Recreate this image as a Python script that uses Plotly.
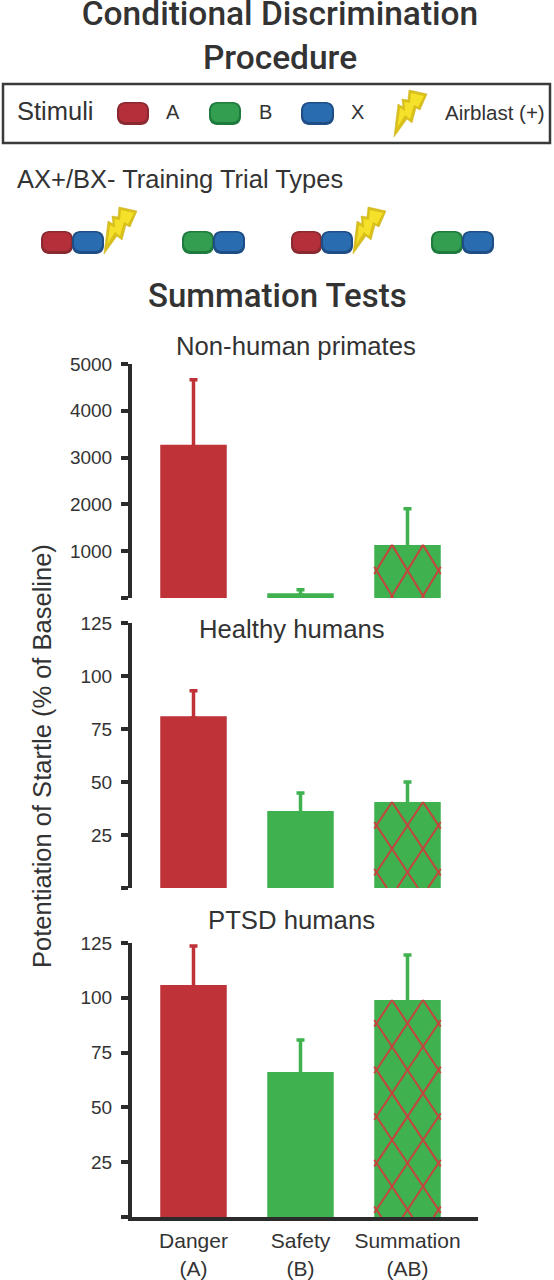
import numpy as np
import plotly.graph_objects as go

W, H = 554, 1280
categories = ["Danger<br>(A)", "Safety<br>(B)", "Summation<br>(AB)"]
x_pos = [0, 1, 2]
primates_mean = [3275, 100, 1135]
primates_err = [1390, 75, 770]
healthy_mean = [81, 36.3, 40.6]
healthy_err = [12, 8.5, 9.4]
ptsd_mean = [105.8, 66.2, 99]
ptsd_err = [17.8, 14.5, 20.5]
primates_ticks = [0, 1000, 2000, 3000, 4000, 5000]
primates_labels = ["", "1000", "2000", "3000", "4000", "5000"]
human_ticks = [0, 25, 50, 75, 100, 125]
human_labels = ["", "25", "50", "75", "100", "125"]

RED, GREEN, LATTICE, DARK = "#be3238", "#3fb24f", "#c4443f", "#2b2b2b"
TEXT = "#333333"
FONT = "Liberation Sans"
HEAD = "Roboto"
X0, X1, PX = 132, 478, 107
C0 = 193.5
panels = [
    dict(m=primates_mean, e=primates_err, t=primates_ticks, l=primates_labels, top=364, bot=598, ymax=5000, dy=25.5),
    dict(m=healthy_mean, e=healthy_err, t=human_ticks, l=human_labels, top=623, bot=888, ymax=125, dy=23.4),
    dict(m=ptsd_mean, e=ptsd_err, t=human_ticks, l=human_labels, top=943, bot=1217, ymax=125, dy=23.3),
]

def lattice(center, top_val, px_per_unit, dy, dx=15.5, half=33.2):
    """Cross-hatch lines clipped to the bar, in data units."""
    xs, ys = [], []
    T = top_val * px_per_unit / dy
    for s in (1, -1):
        for n in range(-21, 22, 2):
            t0 = max(0.0, min((n - half / dx) * s, (n + half / dx) * s))
            t1 = min(T, max((n - half / dx) * s, (n + half / dx) * s))
            if t1 <= t0:
                continue
            for t in (t0, t1):
                xs.append(center + dx * (n - s * t) / PX)
                ys.append(top_val - t * dy / px_per_unit)
            xs.append(None)
            ys.append(None)
    return xs, ys

fig = go.Figure()
layout = dict(width=W, height=H, margin=dict(l=0, r=0, t=0, b=0, pad=0, autoexpand=False), showlegend=False,
              paper_bgcolor="white", plot_bgcolor="white", font=dict(family=FONT, color=TEXT))
for i, p in enumerate(panels):
    sfx = "" if i == 0 else str(i + 1)
    xa, ya = "x" + sfx, "y" + sfx
    ppu = (p["bot"] - p["top"]) / p["ymax"]
    for j in range(3):
        c = RED if j == 0 else GREEN
        # the lower cap of the whisker sits just inside the bar, so only the upper whisker shows
        fig.add_trace(go.Bar(x=[x_pos[j]], y=[p["m"][j]], width=66.5 / PX, xaxis=xa, yaxis=ya,
                             marker=dict(color=c, line=dict(width=0)),
                             error_y=dict(type="data", symmetric=False, array=[p["e"][j]], arrayminus=[2 / ppu],
                                          color=c, thickness=3.5, width=4)))
    lx, ly = lattice(x_pos[2], p["m"][2], ppu, p["dy"])
    fig.add_trace(go.Scatter(x=lx, y=ly, mode="lines", xaxis=xa, yaxis=ya, hoverinfo="skip",
                             line=dict(color=LATTICE, width=2)))
    layout["xaxis" + sfx] = dict(domain=[X0 / W, X1 / W], range=[(X0 - C0) / PX, (X1 - C0) / PX],
                                 anchor=ya, showgrid=False, zeroline=False,
                                 showline=i == 2, linecolor=DARK, linewidth=4, ticks="",
                                 tickmode="array", tickvals=x_pos, ticktext=categories,
                                 showticklabels=i == 2, tickfont=dict(size=21, color=TEXT), ticklabelstandoff=2)
    layout["yaxis" + sfx] = dict(domain=[1 - p["bot"] / H, 1 - p["top"] / H], range=[0, p["ymax"]],
                                 anchor=xa, showgrid=False, zeroline=False, showline=True,
                                 linecolor=DARK, linewidth=4, ticks="outside", ticklen=7, tickwidth=4,
                                 tickcolor=DARK, tickmode="array", tickvals=p["t"], ticktext=p["l"],
                                 tickfont=dict(size=19, color=TEXT), ticklabelstandoff=5)

def txt(s, x, y, size, anchor="center", angle=0, head=False):
    return dict(text=s, x=x / W, y=1 - y / H, xref="paper", yref="paper",
                xanchor=anchor, yanchor="middle", showarrow=False, textangle=angle,
                font=dict(size=size, color=TEXT, family=HEAD if head else FONT, weight=500 if head else 400))

layout["title"] = dict(text="Conditional Discrimination<br>Procedure", x=280 / W, xanchor="center",
                       xref="paper", yref="paper", y=1 - 25 / H, yanchor="middle", automargin=False,
                       font=dict(size=33.5, color=TEXT, family=HEAD, weight=500))
layout["annotations"] = [
    txt("Stimuli", 15, 111, 25.5, "left"),
    txt("A", 173, 112, 20), txt("B", 265, 112, 20), txt("X", 357, 112, 20),
    txt("Airblast (+)", 443, 112, 20.5, "left"),
    txt("AX+/BX- Training Trial Types", 15, 179, 25.5, "left"),
    txt("Summation Tests", 277, 296, 33, head=True),
    txt("Non-human primates", 296, 346, 25.7),
    txt("Healthy humans", 292, 629, 25.7),
    txt("PTSD humans", 291, 920, 25.7),
    txt("Potentiation of Startle (% of Baseline)", 42, 756, 25.5, angle=-90),
]

def px(x, y):
    return f"{x / W:.5f} {1 - y / H:.5f}"

def rrect(x0, y0, x1, y1, r, fill):
    k = r * 0.45
    d = (f"M {px(x0 + r, y0)} L {px(x1 - r, y0)} C {px(x1 - k, y0)} {px(x1, y0 + k)} {px(x1, y0 + r)} "
         f"L {px(x1, y1 - r)} C {px(x1, y1 - k)} {px(x1 - k, y1)} {px(x1 - r, y1)} "
         f"L {px(x0 + r, y1)} C {px(x0 + k, y1)} {px(x0, y1 - k)} {px(x0, y1 - r)} "
         f"L {px(x0, y0 + r)} C {px(x0, y0 + k)} {px(x0 + k, y0)} {px(x0 + r, y0)} Z")
    return dict(type="path", path=d, xref="paper", yref="paper", fillcolor=fill, line=dict(width=0))

PILL = dict(r=("#8a2a30", "#b52f3b"), g=("#1f7a3e", "#349e50"), b=("#1f4e86", "#2a6cb0"))

def pill(x0, x1, y0, y1, kind):
    o, i = PILL[kind]
    return [rrect(x0, y0, x1, y1, 8, o), rrect(x0 + 2, y0 + 1.5, x1 - 2, y1 - 3, 6.5, i)]

BOLT = [(0, 0), (4, -33), (9, -30), (8, -38), (14, -37), (15, -47), (33, -43), (26, -27), (22, -29), (18, -14), (13, -18)]

def bolt(tx, ty):
    d = "M " + " L ".join(px(tx + a, ty + b) for a, b in BOLT) + " Z"
    inner = [(3.5, -10), (6, -29), (11, -26), (10.5, -35), (16, -34), (17, -44), (30, -41), (24, -30), (20, -32), (16, -18), (11, -22)]
    d2 = "M " + " L ".join(px(tx + a, ty + b) for a, b in inner) + " Z"
    return [dict(type="path", path=d, xref="paper", yref="paper", fillcolor="#d9c01a", line=dict(color="#c9ae14", width=0.5)),
            dict(type="path", path=d2, xref="paper", yref="paper", fillcolor="#f5e02a", line=dict(width=0))]

shapes = [dict(type="rect", xref="paper", yref="paper", x0=3 / W, x1=550 / W, y0=1 - 84 / H, y1=1 - 143 / H,
               line=dict(color="#3a3a3a", width=2.5), fillcolor="white")]
shapes += pill(117, 149, 102, 125, "r") + pill(209, 241, 102, 125, "g") + pill(301, 334, 102, 125, "b")
shapes += bolt(394, 137)
for a, k, b, tip in [(41, "r", 72, True), (182, "g", 213, False), (291, "r", 321, True), (431, "g", 462, False)]:
    shapes += pill(a, b + 1, 231, 254, k) + pill(b, b + 32, 231, 254, "b")
    if tip:
        shapes += bolt(b + 32, 254)
layout["shapes"] = shapes
fig.update_layout(**layout)
fig.write_html("out.html", config=dict(displayModeBar=False),
               post_script="document.body.style.margin='0';document.documentElement.style.overflow='hidden';")
